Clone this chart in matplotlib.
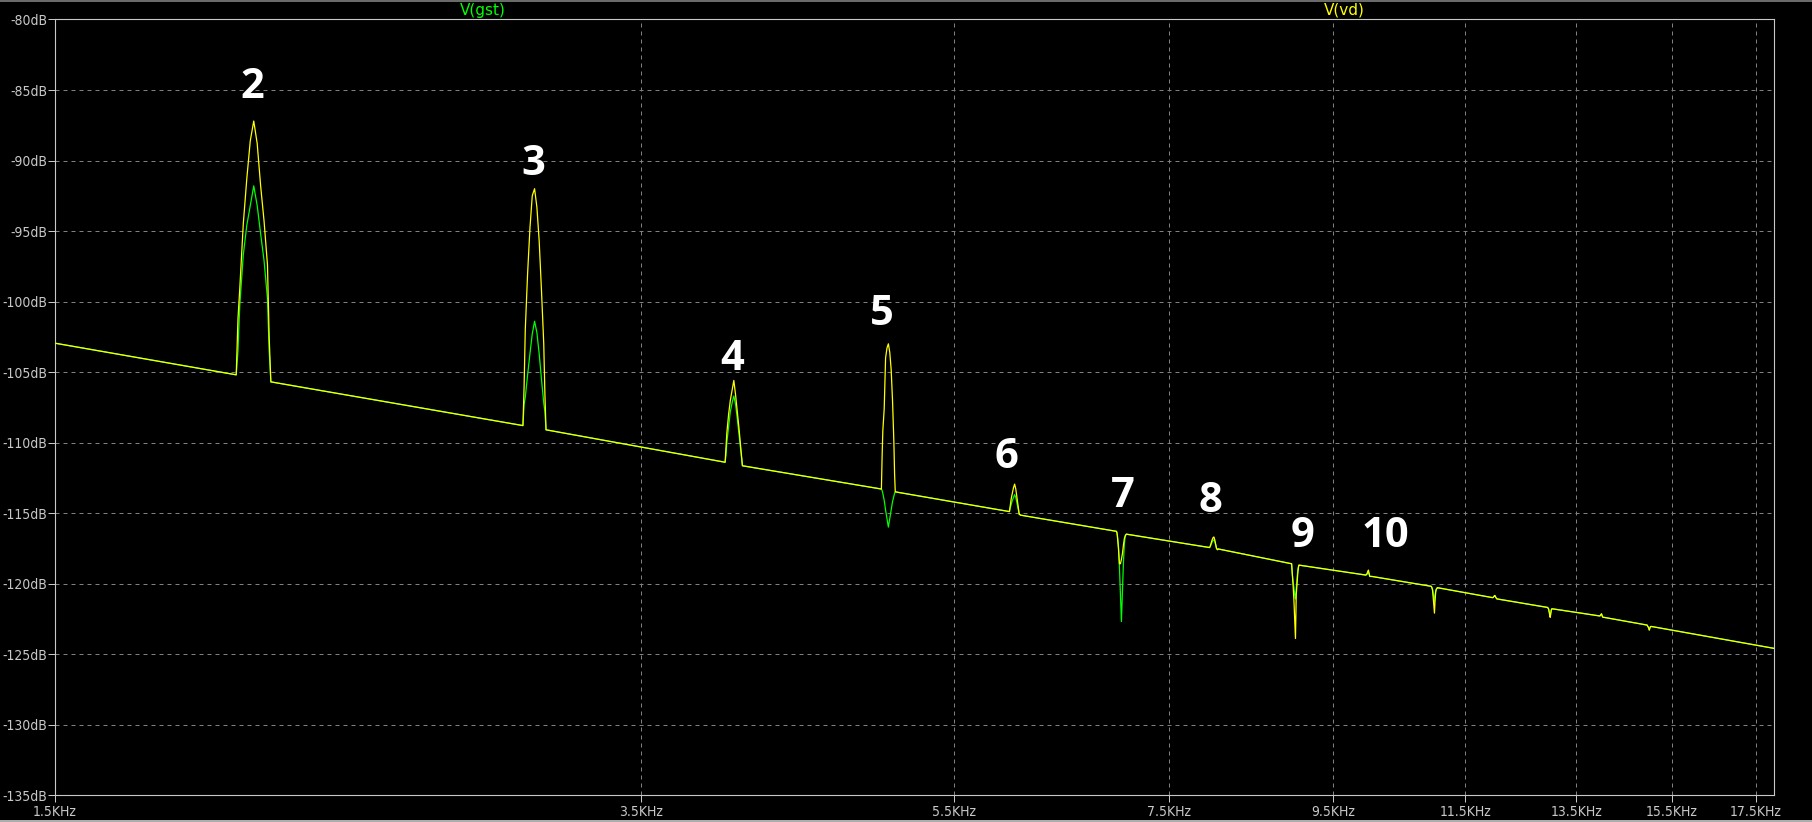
"""
plot.py - LTspice-style FFT view of V(gst) and V(vd), harmonics 2..10 marked.
Writes out.png (1812x822).
"""
import numpy as np
import matplotlib
matplotlib.use("Agg")
import matplotlib.pyplot as plt
from matplotlib import font_manager
from matplotlib.lines import Line2D
from matplotlib.ticker import FixedLocator, NullLocator

# ── data ────────────────────────────────────────────────────────────────────
# noise floor end points (Hz, dB)
floor_freq = [1500, 17960]
floor_db = [-102.95, -124.6]

# harmonic centres and the offsets (Hz) at which each lobe is sampled
harm_freq = [2000, 3000, 4000, 5000, 6000, 7000, 8000,
             9000, 10000, 11000, 12000, 13000, 14000, 15000]
peak_offsets = [-50, -45, -40, -30, -20, -10, 0, 10, 20, 30, 40, 45, 50]

# V(vd), one row per harmonic, dB at peak_offsets
vd_peak_db = [
    [-105.2, -101.2, -99.1, -94.5, -91.3, -88.6, -87.2, -88.8, -91.8, -94.3, -97.4, -102.5, -105.7],
    [-108.8, -106.0, -102.0, -98.0, -94.8, -92.5, -92.0, -93.3, -95.7, -99.2, -103.0, -106.5, -109.1],
    [-111.4, -110.4, -109.3, -108.0, -107.0, -106.3, -105.6, -106.6, -107.8, -109.0, -110.3, -110.9, -111.65],
    [-113.3, -111.0, -109.2, -107.6, -104.0, -103.3, -103.0, -103.6, -104.8, -107.0, -110.0, -112.2, -113.5],
    [-114.9, -114.9, -114.6, -114.0, -113.6, -113.2, -112.95, -113.3, -113.9, -114.5, -115.1, -115.1, -115.15],
    [-116.3, -116.4, -116.7, -117.5, -118.6, -118.6, -118.3, -117.9, -117.3, -116.8, -116.6, -116.55, -116.5],
    [-117.45, -117.4, -117.3, -117.1, -116.9, -116.75, -116.7, -116.9, -117.2, -117.5, -117.6, -117.6, -117.55],
    [-118.6, -119.0, -119.4, -120.2, -121.2, -122.6, -123.9, -120.8, -120.0, -119.3, -118.8, -118.7, -118.7],
    [-119.4, -119.4, -119.4, -119.35, -119.3, -119.15, -119.05, -119.3, -119.5, -119.5, -119.5, -119.5, -119.5],
    [-120.2, -120.25, -120.3, -120.5, -121.0, -121.6, -122.1, -121.2, -120.6, -120.4, -120.35, -120.3, -120.3],
    [-121.0, -121.0, -121.0, -121.0, -120.95, -120.9, -120.85, -120.9, -121.0, -121.05, -121.1, -121.1, -121.1],
    [-121.7, -121.7, -121.75, -121.8, -122.0, -122.2, -122.4, -122.2, -121.9, -121.8, -121.8, -121.8, -121.8],
    [-122.3, -122.3, -122.3, -122.3, -122.25, -122.2, -122.15, -122.25, -122.35, -122.4, -122.4, -122.4, -122.4],
    [-122.95, -122.95, -123.0, -123.05, -123.1, -123.2, -123.3, -123.2, -123.1, -123.05, -123.05, -123.05, -123.05],
]

# V(gst), same layout
gst_peak_db = [
    [-105.2, -103.5, -100.3, -96.7, -94.6, -93.2, -91.8, -93.2, -95.2, -97.1, -99.8, -103.5, -105.7],
    [-108.8, -107.3, -106.8, -105.2, -103.7, -102.3, -101.4, -102.2, -103.7, -105.5, -107.2, -107.8, -109.1],
    [-111.4, -110.9, -110.0, -108.9, -107.8, -107.2, -106.7, -107.3, -108.3, -109.4, -110.5, -111.0, -111.65],
    [-113.3, -113.4, -113.6, -114.1, -114.8, -115.4, -116.0, -115.4, -114.8, -114.2, -113.8, -113.6, -113.5],
    [-114.9, -114.9, -114.7, -114.4, -114.1, -113.9, -113.7, -113.9, -114.3, -114.7, -115.1, -115.1, -115.15],
    [-116.3, -116.4, -116.6, -117.3, -118.8, -120.8, -122.7, -120.6, -118.6, -117.2, -116.6, -116.55, -116.5],
    [-117.45, -117.4, -117.35, -117.2, -117.05, -116.95, -116.9, -117.0, -117.25, -117.5, -117.6, -117.6, -117.55],
    [-118.6, -119.0, -119.4, -119.9, -120.3, -120.8, -121.1, -120.4, -119.6, -119.0, -118.8, -118.7, -118.7],
    [-119.4, -119.4, -119.4, -119.4, -119.35, -119.25, -119.2, -119.35, -119.5, -119.5, -119.5, -119.5, -119.5],
    [-120.2, -120.25, -120.3, -120.4, -120.7, -121.0, -121.3, -120.8, -120.5, -120.4, -120.35, -120.3, -120.3],
    [-121.0, -121.0, -121.0, -121.0, -120.95, -120.9, -120.85, -120.9, -121.0, -121.05, -121.1, -121.1, -121.1],
    [-121.7, -121.7, -121.75, -121.8, -121.95, -122.1, -122.25, -122.1, -121.9, -121.8, -121.8, -121.8, -121.8],
    [-122.3, -122.3, -122.3, -122.3, -122.25, -122.2, -122.15, -122.25, -122.35, -122.4, -122.4, -122.4, -122.4],
    [-122.95, -122.95, -123.0, -123.05, -123.1, -123.2, -123.3, -123.2, -123.1, -123.05, -123.05, -123.05, -123.05],
]

# harmonic number annotations (centre freq, baseline dB)
note_text = ["2", "3", "4", "5", "6", "7", "8", "9", "10"]
note_freq = [1995, 2993, 3989, 4953, 5927, 7012, 7955, 9094, 10250]
note_db = [-85.6, -91.0, -104.85, -101.7, -111.8, -114.55, -114.9, -117.4, -117.4]

xtick_freq = [1500, 3500, 5500, 7500, 9500, 11500, 13500, 15500, 17500]
xtick_labels = ["1.5KHz", "3.5KHz", "5.5KHz", "7.5KHz", "9.5KHz",
                "11.5KHz", "13.5KHz", "15.5KHz", "17.5KHz"]
ytick_db = [-80, -85, -90, -95, -100, -105, -110, -115, -120, -125, -130, -135]

GST = "#00ff00"
VD = "#ffff00"
FG = "#c8c8c8"
GRID = "#808080"


def build_trace(rows):
    f = list(floor_freq)
    d = list(floor_db)
    for hf, row in zip(harm_freq, rows):
        f += [hf + o for o in peak_offsets]
        d += list(row)
    order = np.argsort(f)
    return np.array(f, dtype=float)[order], np.array(d)[order]


names = {f.name for f in font_manager.fontManager.ttflist}
if "Liberation Sans Narrow" in names:
    axis_font = dict(family="Liberation Sans Narrow", size=12)
else:
    axis_font = dict(family="DejaVu Sans", size=10, stretch="condensed")

fig = plt.figure(figsize=(18.12, 8.22), dpi=100, facecolor="black")
ax = fig.add_axes([54.5 / 1812, 27 / 822, (1774 - 54.5) / 1812, (795 - 19.5) / 822])
ax.set_facecolor("black")

f_gst, d_gst = build_trace(gst_peak_db)
f_vd, d_vd = build_trace(vd_peak_db)
ax.plot(f_gst, d_gst, color=GST, lw=0.9, zorder=3)
ax.plot(f_vd, d_vd, color=VD, lw=0.9, zorder=4)

ax.set_xscale("log")
ax.set_xlim(1500, 17960)
ax.set_ylim(-135, -80)
ax.xaxis.set_major_locator(FixedLocator(xtick_freq))
ax.xaxis.set_minor_locator(NullLocator())
ax.set_xticklabels(xtick_labels)
ax.set_yticks(ytick_db)
ax.set_yticklabels([f"{v}dB" for v in ytick_db])

for lbl in ax.get_xticklabels() + ax.get_yticklabels():
    lbl.set_fontfamily(axis_font["family"])
    lbl.set_fontsize(axis_font["size"])
    if "stretch" in axis_font:
        lbl.set_fontstretch(axis_font["stretch"])
    lbl.set_color(FG)

ax.tick_params(axis="both", direction="out", length=5, width=0.72, color=FG)
ax.tick_params(axis="y", pad=0)
ax.tick_params(axis="x", pad=2)
for sp in ax.spines.values():
    sp.set_color(FG)
    sp.set_linewidth(0.8)

ax.set_axisbelow(True)
ax.grid(True, color=GRID, lw=0.72, linestyle=(0, (4, 4)))

# harmonic numbers
for t, fx, dy in zip(note_text, note_freq, note_db):
    ax.text(fx, dy, t, ha="center", va="baseline", color="white",
            fontsize=30, fontweight="bold", family="Open Sans", zorder=5)

# trace names above the plot
fig.text(483 / 1812, 1 - 10 / 822, "V(gst)", ha="center", va="center",
         color=GST, fontsize=11, family=axis_font["family"])
fig.text(1344 / 1812, 1 - 10 / 822, "V(vd)", ha="center", va="center",
         color=VD, fontsize=11, family=axis_font["family"])

# window border lines
fig.add_artist(Line2D([0, 1], [1 - 0.6 / 822] * 2, color="#808080", lw=1.2,
                      transform=fig.transFigure))
fig.add_artist(Line2D([0, 1], [0.6 / 822] * 2, color="#d0d0d0", lw=1.2,
                      transform=fig.transFigure))

fig.savefig("out.png", dpi=100, facecolor="black")
plt.close(fig)
